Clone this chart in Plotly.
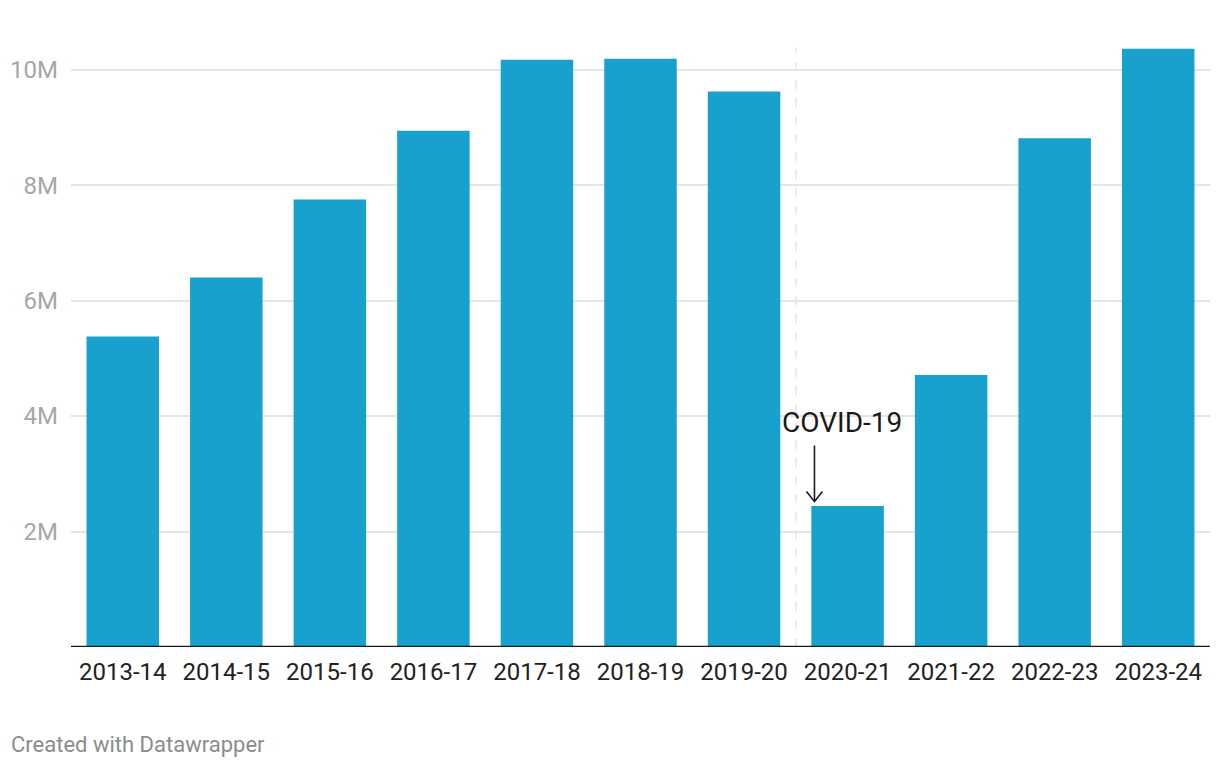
import plotly.graph_objects as go

seasons = ["2013-14", "2014-15", "2015-16", "2016-17", "2017-18", "2018-19",
           "2019-20", "2020-21", "2021-22", "2022-23", "2023-24"]
visitors = [5.38e6, 6.40e6, 7.75e6, 8.94e6, 10.17e6, 10.19e6,
            9.62e6, 2.44e6, 4.71e6, 8.81e6, 10.36e6]
y_ticks = [2e6, 4e6, 6e6, 8e6, 10e6]
y_tick_labels = ["2M", "4M", "6M", "8M", "10M"]

W, H = 1220, 768
ML, MR, MT, MB = 69, 10, 35, 121
plot_h = H - MT - MB
ymax = 10.6e6

fig = go.Figure()
fig.add_trace(go.Bar(
    x=list(range(len(seasons))), y=visitors,
    marker=dict(color="#18a1cd", line=dict(width=0)),
    hoverinfo="skip",
))

fig.update_layout(
    width=W, height=H,
    margin=dict(l=ML, r=MR, t=MT, b=MB),
    plot_bgcolor="white", paper_bgcolor="white",
    bargap=0.3,
    showlegend=False,
    font=dict(family="Roboto", color="#222222"),
    xaxis=dict(
        range=[-0.5, len(seasons) - 0.5],
        tickmode="array",
        tickvals=list(range(len(seasons))),
        ticktext=seasons,
        tickfont=dict(size=24, color="#222222"),
        showgrid=False, zeroline=False,
        showline=False,
        ticks="", ticklabelstandoff=8,
    ),
    yaxis=dict(
        range=[0, ymax],
        tickmode="array",
        tickvals=y_ticks,
        ticktext=y_tick_labels,
        tickfont=dict(size=24, color="#a6a6a6"),
        showgrid=True, gridcolor="#e5e5e5", gridwidth=2,
        zeroline=False, showline=False,
        ticks="", ticklabelstandoff=12,
    ),
)

# baseline
fig.add_shape(type="line", xref="paper", yref="y", x0=0, x1=1, y0=0, y1=0,
              line=dict(color="#1a1a1a", width=2.5), layer="above")

# dashed separator between 2019-20 and 2020-21
fig.add_shape(type="line", xref="x", yref="y", x0=6.5, x1=6.5, y0=0, y1=10.38e6,
              line=dict(color="#ebebeb", width=2, dash="dash"), layer="below")

# COVID annotation: arrow shaft + open V head
arrow_x = 6.68
arrow_tip = 2.52e6
fig.add_shape(type="line", xref="x", yref="y", xsizemode="pixel", ysizemode="pixel",
              xanchor=arrow_x, yanchor=arrow_tip, x0=0, x1=0, y0=0, y1=56,
              line=dict(color="#1a1a1a", width=1.6))
fig.add_shape(type="path", xref="x", yref="y", xsizemode="pixel", ysizemode="pixel",
              xanchor=arrow_x, yanchor=arrow_tip, path="M -8,10 L 0,0 L 8,10",
              line=dict(color="#1a1a1a", width=1.6))
fig.add_annotation(x=6.95, y=(647 - 422) / plot_h * ymax, xref="x", yref="y",
                   text="COVID-19", showarrow=False,
                   font=dict(size=28, color="#1a1a1a", family="Roboto"),
                   xanchor="center", yanchor="middle")

# footer
fig.add_annotation(x=(7 - ML) / (W - ML - MR), y=(647 - 745) / plot_h,
                   xref="paper", yref="paper", text="Created with Datawrapper",
                   showarrow=False, xanchor="left", yanchor="middle",
                   font=dict(size=22, color="#8c8c8c", family="Roboto"))

fig.write_html("out.html")
